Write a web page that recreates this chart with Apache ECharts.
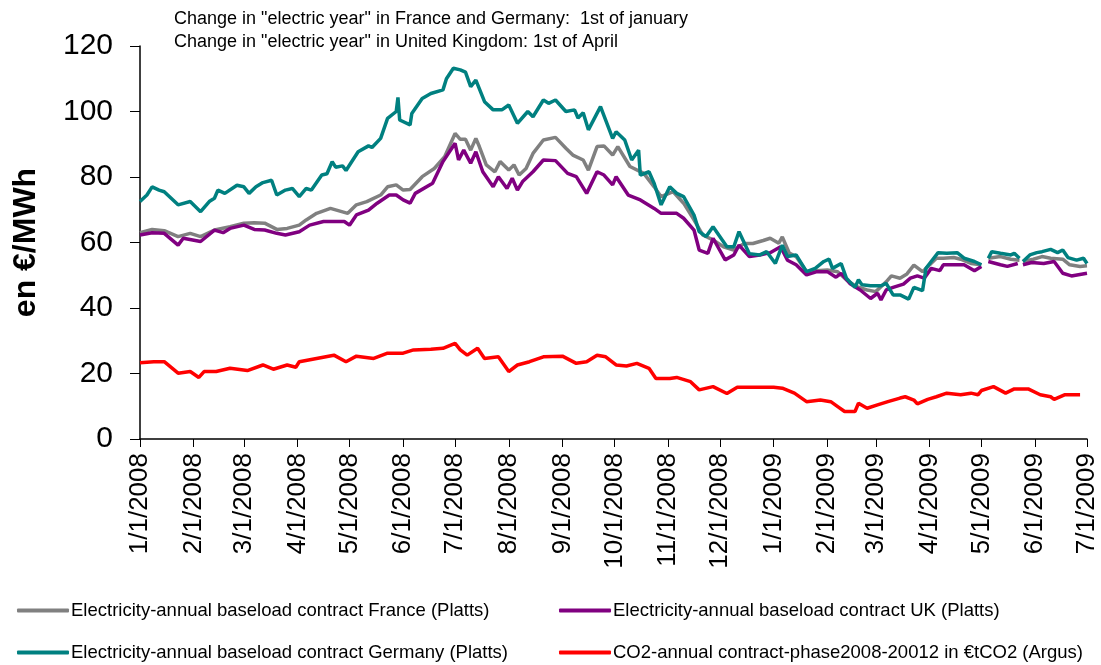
<!DOCTYPE html>
<html>
<head>
<meta charset="utf-8">
<script src="https://cdn.jsdelivr.net/npm/echarts@6/dist/echarts.min.js"></script>
<style>
  html, body { margin: 0; padding: 0; background: #fff; }
  #chart { width: 1101px; height: 665px; }
</style>
</head>
<body>
<div id="chart"></div>
<script>
// x positions are days since 1/1/2008
var monthDays = [0, 31, 60, 91, 121, 152, 182, 213, 244, 274, 305, 335, 366, 397, 425, 456, 486, 517, 547];
var monthLabels = ["1/1/2008", "2/1/2008", "3/1/2008", "4/1/2008", "5/1/2008", "6/1/2008", "7/1/2008",
  "8/1/2008", "9/1/2008", "10/1/2008", "11/1/2008", "12/1/2008", "1/1/2009", "2/1/2009", "3/1/2009",
  "4/1/2009", "5/1/2009", "6/1/2009", "7/1/2009"];

var franceDays = [0, 7, 14, 22, 29, 35, 43, 52, 60, 66, 72, 79, 85, 92, 96, 102, 110, 120, 125, 131, 139, 143, 148, 152, 156, 163, 170, 176, 182, 185, 188, 191, 194, 196, 200, 205, 208, 213, 216, 219, 223, 227, 233, 240, 246, 250, 256, 259, 264, 268, 273, 276, 283, 291, 297, 301, 308, 314, 320, 325, 331, 337, 343, 349, 354, 360, 364, 369, 371, 375, 379, 385, 391, 397, 403, 408, 414, 420, 425, 431, 434, 439, 443, 447, 452, 456, 460, 464, 470, 474, 480, 486, 488, 490, 497, 503, 508, 509, 510, 516, 521, 526, 533, 537, 543, 547];
var franceVals = [63, 64, 63.6, 61.8, 62.8, 61.8, 63.8, 64.8, 65.9, 66, 65.9, 64, 64.3, 65.3, 66.9, 68.9, 70.4, 68.9, 71.5, 72.5, 74.5, 77, 77.6, 76, 76.2, 80.1, 82.6, 86.2, 93.3, 91.5, 91.5, 88.2, 91.8, 89.3, 83.7, 81.6, 84.7, 82.1, 83.7, 80.6, 82.6, 87.2, 91.3, 92.1, 88.8, 86.7, 85.2, 82.1, 89.3, 89.5, 86.7, 89.3, 83.2, 81.1, 77, 74, 75.5, 72, 66.9, 62.3, 60.8, 58.7, 57.7, 59.7, 59.7, 60.6, 61.3, 59.8, 61.7, 56.8, 55.7, 51.1, 51.4, 51.6, 51.1, 48.6, 46.5, 45.5, 45, 48, 49.8, 49.1, 50.4, 53.1, 51.1, 53.1, 55.2, 55.2, 55.4, 54.9, 53.6, 53.2, null, 55.2, 55.7, 54.9, 54.6, null, 54.2, 54.9, 55.7, 55.2, 54.9, 53.2, 52.7, 52.9];

var ukDays = [0, 7, 14, 22, 25, 35, 43, 48, 52, 60, 66, 72, 79, 84, 92, 98, 106, 118, 121, 125, 132, 137, 144, 148, 152, 156, 159, 169, 175, 182, 184, 187, 191, 194, 198, 204, 207, 212, 215, 218, 221, 227, 233, 240, 247, 252, 258, 264, 268, 273, 275, 282, 289, 297, 301, 310, 314, 320, 323, 328, 331, 338, 343, 346, 352, 358, 364, 370, 374, 379, 385, 391, 397, 402, 405, 410, 416, 422, 426, 428, 431, 435, 441, 445, 449, 453, 457, 462, 464, 469, 476, 482, 486, 488, 490, 497, 501, 507, 509, 510, 515, 522, 528, 533, 538, 547];
var ukVals = [62.3, 63, 62.8, 59.2, 61.3, 60.3, 63.8, 63, 64.3, 65.3, 64, 63.8, 62.8, 62.3, 63.3, 65.3, 66.4, 66.4, 65.3, 68.4, 69.9, 72, 74.5, 74.5, 73, 72, 75, 78.1, 84.7, 90.3, 85.2, 88.2, 84.2, 87.7, 81.6, 77, 80.1, 76.5, 79.6, 76, 78.6, 81.6, 85.2, 85, 81.1, 80.1, 75, 81.6, 80.6, 77.6, 80.1, 74.5, 73, 70.4, 68.9, 68.9, 67.4, 63.8, 57.7, 56.7, 61.3, 54.7, 56.2, 59.2, 55.7, 56.2, 56.9, 58.7, 54.6, 53.2, 50.1, 51.1, 51.1, 49.4, 50.6, 47.5, 45.5, 42.9, 44.5, 42.5, 45.5, 46.3, 47.3, 49.1, 49.8, 49.1, 52.1, 51.4, 53.2, 53.2, 53.2, 51.4, 52.7, null, 54.2, 53.2, 52.7, 53.6, null, 53.2, 53.9, 53.6, 54.2, 50.6, 49.8, 50.6];

var germanyDays = [0, 4, 7, 11, 14, 18, 22, 29, 35, 40, 43, 45, 49, 56, 60, 63, 67, 71, 76, 79, 84, 88, 92, 96, 99, 105, 108, 111, 113, 117, 119, 126, 132, 134, 139, 143, 148, 149, 150, 156, 157, 163, 168, 175, 177, 181, 185, 188, 191, 194, 199, 204, 209, 213, 218, 224, 227, 233, 236, 240, 246, 251, 253, 256, 259, 266, 273, 275, 280, 284, 288, 289, 294, 297, 301, 306, 310, 314, 320, 323, 327, 331, 339, 343, 346, 352, 358, 362, 367, 371, 374, 379, 385, 390, 395, 398, 400, 405, 408, 413, 415, 417, 422, 428, 431, 435, 439, 444, 447, 452, 454, 457, 461, 466, 472, 476, 482, 486, 488, 490, 492, 497, 503, 505, 508, 509, 510, 514, 518, 521, 526, 530, 533, 536, 541, 545, 547];
var germanyVals = [72.5, 74.5, 77, 76, 75.5, 73.5, 71.5, 72.5, 69.4, 72.5, 73.5, 76, 75, 77.5, 77, 75, 77, 78.3, 79, 74.5, 76, 76.5, 74, 76.5, 76, 80.6, 81, 84.7, 83, 83.4, 82, 87.7, 89.5, 89, 91.8, 97.9, 100, 104.3, 97.4, 95.9, 99.4, 104, 105.5, 106.6, 110, 113.2, 112.7, 112, 107.6, 109.6, 103, 100.5, 100.5, 102, 96.4, 100, 98.4, 103.5, 102.5, 103.5, 100, 100.5, 98, 99.6, 94.4, 101.5, 91.8, 93.8, 91.3, 85.2, 88.2, 80.6, 81.6, 78, 71.5, 77, 75, 74, 68.4, 63.3, 61.8, 64.8, 58.7, 58.7, 63.3, 56.6, 56.2, 57.2, 53.6, 59.2, 55.7, 56.2, 51.1, 52.1, 54.2, 54.9, 52.1, 53.6, 49.1, 46.3, 48.6, 47.1, 46.8, 46.8, 47.5, 44, 44, 42.7, 46.3, 45.3, 52.1, 54.2, 56.9, 56.7, 56.9, 55.2, 54.2, 53.2, null, 55.2, 57.2, 56.7, 56.2, 56.7, 55.2, null, 54.2, 56.2, 56.9, 57.2, 57.9, 56.9, 57.7, 55.4, 54.6, 55.2, 53.6];

var co2Days = [0, 8, 14, 22, 29, 34, 37, 44, 52, 62, 71, 77, 85, 90, 92, 102, 112, 119, 125, 135, 143, 152, 158, 168, 175, 182, 185, 189, 195, 199, 207, 213, 218, 225, 233, 244, 252, 258, 264, 269, 275, 281, 287, 294, 298, 306, 310, 318, 323, 331, 339, 345, 354, 366, 371, 378, 385, 393, 399, 403, 407, 413, 415, 420, 426, 432, 439, 442, 447, 449, 455, 460, 466, 474, 480, 484, 486, 493, 500, 505, 513, 520, 526, 528, 534, 543];
var co2Vals = [23.3, 23.6, 23.6, 20.1, 20.6, 18.8, 20.6, 20.6, 21.6, 20.9, 22.6, 21.3, 22.6, 21.9, 23.6, 24.6, 25.6, 23.6, 25.3, 24.6, 26.2, 26.2, 27.2, 27.4, 27.7, 29.2, 27.2, 25.6, 27.7, 24.6, 25.1, 20.6, 22.6, 23.6, 25.1, 25.3, 23.1, 23.6, 25.6, 25.1, 22.6, 22.3, 23.1, 21.6, 18.5, 18.5, 18.8, 17.5, 15, 16, 13.9, 15.8, 15.8, 15.8, 15.5, 14, 11.4, 11.9, 11.4, 9.9, 8.4, 8.4, 10.9, 9.4, 10.4, 11.4, 12.5, 12.9, 11.9, 10.7, 12.1, 12.9, 14, 13.5, 14, 13.5, 14.8, 16, 14, 15.3, 15.3, 13.5, 12.9, 12.1, 13.5, 13.5];

var seriesNames = [
  "Electricity-annual baseload contract France (Platts)",
  "Electricity-annual baseload contract UK (Platts)",
  "Electricity-annual baseload contract Germany (Platts)",
  "CO2-annual contract-phase2008-20012 in €tCO2 (Argus)"
];

var font = "'Liberation Sans', Arial, sans-serif";

function pairs(days, vals) {
  return days.map(function (d, i) { return [d, vals[i]]; });
}

function line(name, color, days, vals) {
  return {
    name: name,
    type: "line",
    data: pairs(days, vals),
    showSymbol: false,
    connectNulls: false,
    color: color,
    lineStyle: { color: color, width: 3.5 },
    emphasis: { disabled: true }
  };
}

// one legend per column so the two columns line up like the original
function legendCol(names, left) {
  return {
    data: names,
    orient: "vertical",
    left: left,
    top: 601,
    padding: 0,
    itemGap: 23,
    itemWidth: 52,
    itemHeight: 4,
    icon: "roundRect",
    textStyle: { fontFamily: font, fontSize: 18.5, lineHeight: 18, color: "#000", padding: [0, 0, 0, -3] }
  };
}

var myChart = echarts.init(document.getElementById("chart"));
var option = {
  animation: false,
  textStyle: { fontFamily: font, color: "#000" },
  title: {
    text: 'Change in "electric year" in France and Germany:  1st of january\nChange in "electric year" in United Kingdom: 1st of April',
    left: 169,
    top: 3,
    textStyle: { fontFamily: font, fontSize: 18, fontWeight: "normal", color: "#000", lineHeight: 23 }
  },
  legend: [
    legendCol([seriesNames[0], seriesNames[2]], 17),
    legendCol([seriesNames[1], seriesNames[3]], 559)
  ],
  grid: { left: 140, right: 14, top: 46, bottom: 226, containLabel: false },
  xAxis: {
    type: "value",
    min: 0,
    max: 547,
    splitLine: { show: false },
    axisLine: { lineStyle: { color: "#000", width: 1.5 } },
    axisTick: { show: true, length: 8, customValues: monthDays, lineStyle: { color: "#000" } },
    axisLabel: {
      customValues: monthDays,
      rotate: 90,
      margin: 14,
      fontSize: 26,
      color: "#000",
      fontFamily: font,
      formatter: function (v) { return monthLabels[monthDays.indexOf(v)]; }
    }
  },
  yAxis: {
    type: "value",
    min: 0,
    max: 120,
    interval: 20,
    name: "en €/MWh",
    nameLocation: "middle",
    nameGap: 98,
    nameTextStyle: { fontFamily: font, fontSize: 32, fontWeight: "bold", color: "#000" },
    splitLine: { show: false },
    axisLine: { show: true, lineStyle: { color: "#000", width: 1.5 } },
    axisTick: { show: true, length: 10, lineStyle: { color: "#000" } },
    axisLabel: { fontSize: 30, color: "#000", margin: 27, fontFamily: font }
  },
  series: [
    line(seriesNames[0], "#808080", franceDays, franceVals),
    line(seriesNames[1], "#800080", ukDays, ukVals),
    line(seriesNames[2], "#008080", germanyDays, germanyVals),
    line(seriesNames[3], "#ff0000", co2Days, co2Vals)
  ]
};
myChart.setOption(option);
window.addEventListener("resize", function () {
  myChart.resize();
});
</script>
</body>
</html>
